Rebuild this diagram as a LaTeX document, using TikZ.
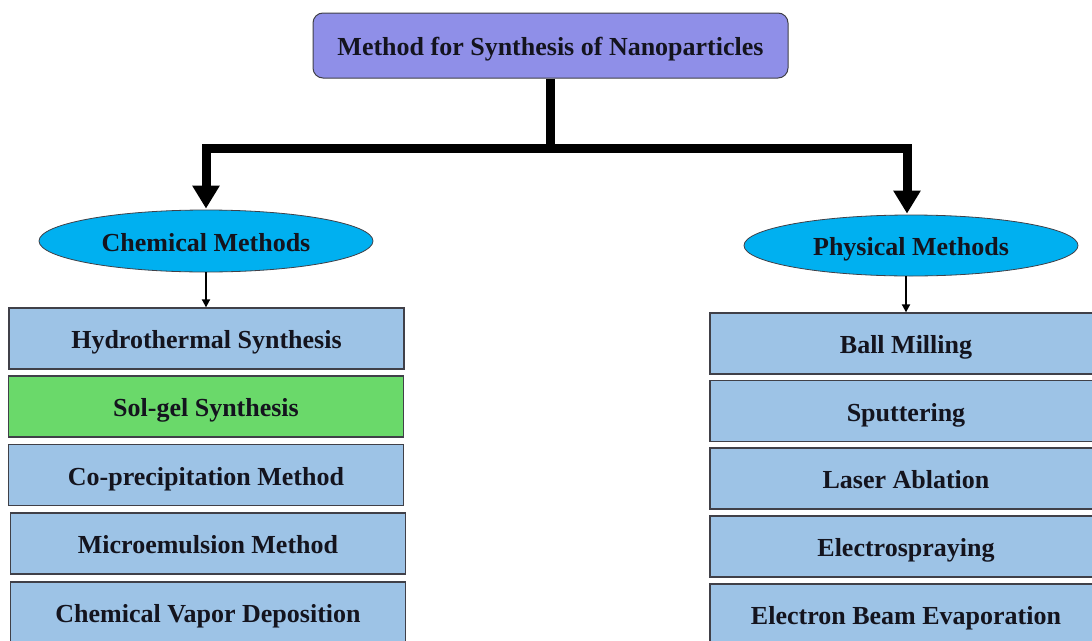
\documentclass[tikz,border=0pt]{standalone}
\usepackage{fontspec}
\setmainfont{Liberation Serif}
\usetikzlibrary{arrows.meta,shapes.geometric}
\definecolor{topfill}{RGB}{143,143,232}
\definecolor{ellfill}{RGB}{0,176,240}
\definecolor{boxfill}{RGB}{157,195,230}
\definecolor{greenfill}{RGB}{106,217,106}
\definecolor{edge}{RGB}{64,64,72}
\definecolor{txt}{RGB}{20,20,30}
\tikzset{
  x=1pt, y=-1pt,
  every node/.style={font=\fontsize{26}{30}\selectfont\bfseries, text=txt, inner sep=0pt, text height=20.5pt, text depth=0pt},
  titlebox/.style={draw=edge, line width=1pt, fill=topfill, rounded corners=10pt, minimum width=475pt, minimum height=65pt},
  methell/.style={ellipse, draw=edge, line width=0.8pt, fill=ellfill, minimum width=334pt, minimum height=62pt},
  itembox/.style={draw=edge, line width=1.3pt, fill=boxfill, minimum width=395pt, minimum height=61pt},
  bigarrow/.style={line width=9pt, -{Triangle[width=26pt,length=23pt]}},
  bigline/.style={line width=9pt},
  smallarrow/.style={line width=1.8pt, -{Triangle[width=8pt,length=8pt]}}
}
\begin{document}
\begin{tikzpicture}
\useasboundingbox (0,0) rectangle (1092,640);
\node[titlebox] (top) at (550.5,45.5) {Method for Synthesis of Nanoparticles};
\node[methell] (chem) at (206,241) {Chemical Methods};
\node[methell, minimum height=61pt] (phys) at (911,245.5) {Physical Methods};
% left column
\node[itembox] (c1) at (206.5,338.5) {Hydrothermal Synthesis};
\node[itembox, fill=greenfill] (c2) at (206,406.5) {Sol-gel Synthesis};
\node[itembox] (c3) at (206,475) {Co-precipitation Method};
\node[itembox] (c4) at (208,543.5) {Microemulsion Method};
\node[itembox] (c5) at (208,612.5) {Chemical Vapor Deposition};
% right column
\node[itembox, minimum width=392pt] (p1) at (906,343.5) {Ball Milling};
\node[itembox, minimum width=392pt] (p2) at (906,411) {Sputtering};
\node[itembox, minimum width=392pt] (p3) at (906,478.5) {Laser Ablation};
\node[itembox, minimum width=392pt] (p4) at (906,546.5) {Electrospraying};
\node[itembox, minimum width=392pt] (p5) at (906,614.5) {Electron Beam Evaporation};
% connectors
\coordinate (j) at (550.5,148);
\draw[bigline] (top.south) -- (j);
\draw[bigarrow] (j) -| ([yshift=1pt]chem.north);
\draw[bigarrow] (j) -| ([xshift=-4pt,yshift=1pt]phys.north);
\draw[smallarrow] (chem.south) -- (chem.south |- c1.north);
\draw[smallarrow] (p1.north |- phys.south) -- (p1.north);
\end{tikzpicture}
\end{document}
